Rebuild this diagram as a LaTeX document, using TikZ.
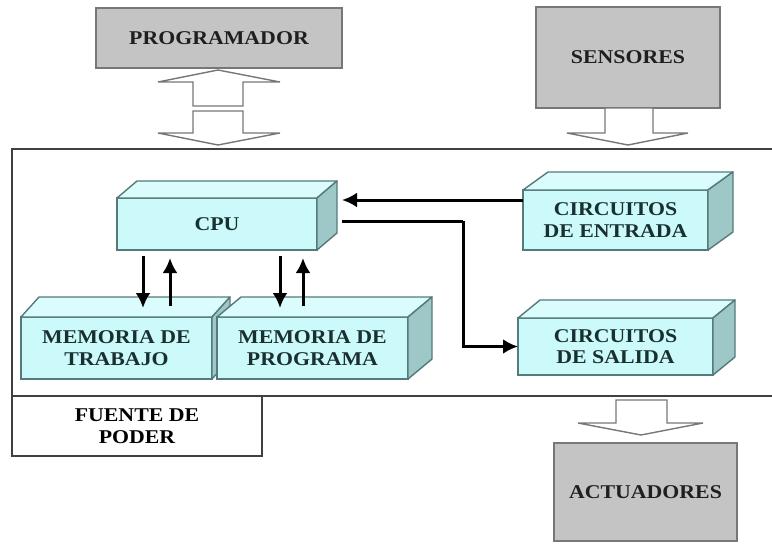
\documentclass[tikz,border=0pt]{standalone}
\usepackage{fontspec}
\setmainfont{Liberation Serif}[FakeStretch=1.12]
\usetikzlibrary{calc,arrows.meta}
\definecolor{frontc}{HTML}{CCFAFA}
\definecolor{topc}{HTML}{DAFCFC}
\definecolor{sidec}{HTML}{9EC8C8}
\definecolor{edgec}{HTML}{557A7A}
\definecolor{boxgray}{HTML}{C4C4C4}
\definecolor{boxedge}{HTML}{777777}
\definecolor{textc}{HTML}{1A3030}
\newcommand\threedfaces[2]{%
  \filldraw[fill=topc,draw=edgec,line width=1.4pt,line join=round] (#1.north west) -- ++(#2) -- ($(#1.north east)+(#2)$) -- (#1.north east) -- cycle;
  \filldraw[fill=sidec,draw=edgec,line width=1.4pt,line join=round] (#1.north east) -- ++(#2) -- ($(#1.south east)+(#2)$) -- (#1.south east) -- cycle;}
\tikzset{
  lbl/.style={font=\fontsize{19.5}{21.5}\selectfont\bfseries, align=center},
  graybox/.style={lbl, draw=boxedge, fill=boxgray, line width=1.5pt, outer sep=0pt, text=black!88},
  cube/.style={lbl, draw=edgec, fill=frontc, line width=1.4pt, outer sep=0pt, text=textc, inner sep=0pt},
  blockarrow/.style={draw=boxedge, fill=white, line width=1.4pt, line join=miter},
  arr/.style={line width=3pt, black, -{Latex[length=15pt,width=15pt]}},
  frame/.style={draw=black!75, line width=2.2pt}
}
\begin{document}
\begin{tikzpicture}[x=1pt,y=-1pt]
\useasboundingbox (0,0) rectangle (772,544);
% main frame
\draw[frame] (772,149) -- (12,149) -- (12,396) -- (772,396);
\node[draw=black!75, line width=2.2pt, minimum width=250pt, minimum height=60pt, outer sep=0pt, lbl] (fuente) at (137,426) {FUENTE DE\\PODER};
% outer gray boxes
\node[graybox, minimum width=246pt, minimum height=60pt] (prog) at (219,38) {PROGRAMADOR};
\node[graybox, minimum width=184pt, minimum height=101pt] (sens) at (628,57.5) {SENSORES};
\node[graybox, minimum width=183pt, minimum height=98pt] (act) at (645.5,492) {ACTUADORES};
% block arrows
\draw[blockarrow] (218,70) -- (280,82) -- (243,82) -- (243,106) -- (193,106) -- (193,82) -- (158,82) -- cycle;
\draw[blockarrow] (193,111) -- (243,111) -- (243,133) -- (280,133) -- (218,145) -- (158,133) -- (193,133) -- cycle;
\draw[blockarrow] (605,108) -- (653,108) -- (653,133) -- (688,133) -- (628,145) -- (567,133) -- (605,133) -- cycle;
\draw[blockarrow] (616,400) -- (667,400) -- (667,423) -- (703,423) -- (641,435) -- (578,423) -- (616,423) -- cycle;
% 3D boxes
\node[cube, minimum width=200pt, minimum height=52pt] (cpu) at (217,224) {CPU};
\threedfaces{cpu}{20,-17}
\node[cube, minimum width=191pt, minimum height=62pt] (trab) at (116.5,348) {MEMORIA DE\\TRABAJO};
\threedfaces{trab}{18,-20}
\node[cube, minimum width=191pt, minimum height=62pt] (prgm) at (312.5,348) {MEMORIA DE\\PROGRAMA};
\threedfaces{prgm}{24,-20}
\node[cube, minimum width=185pt, minimum height=60pt] (ent) at (615.5,220) {CIRCUITOS\\DE ENTRADA};
\threedfaces{ent}{25,-18}
\node[cube, minimum width=195pt, minimum height=57pt] (sal) at (615.5,346.5) {CIRCUITOS\\DE SALIDA};
\threedfaces{sal}{22,-18}
% connectors
\coordinate (cpuin) at (342,200);
\coordinate (cpuout) at (342,221);
\coordinate (bend) at (463,221);
\draw[arr] (ent.west |- cpuin) -- (cpuin);
\draw[line width=3pt] (cpuout) -- (bend);
\draw[arr] (bend) |- (sal.west);
\coordinate (d1a) at (143,256); \coordinate (d1b) at (143,308);
\coordinate (u1a) at (170,306); \coordinate (u1b) at (170,258);
\coordinate (d2a) at (280,256); \coordinate (d2b) at (280,308);
\coordinate (u2a) at (303,306); \coordinate (u2b) at (303,258);
\draw[arr] (d1a) -- (d1b);
\draw[arr] (u1a) -- (u1b);
\draw[arr] (d2a) -- (d2b);
\draw[arr] (u2a) -- (u2b);
\end{tikzpicture}
\end{document}
